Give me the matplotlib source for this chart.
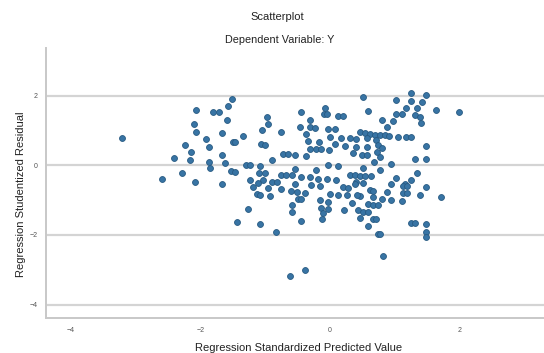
import matplotlib
matplotlib.use("Agg")
import matplotlib.pyplot as plt

plt.rcParams['font.family'] = ['Liberation Sans', 'DejaVu Sans']

# standardized predicted value (x) and studentized residual (y)
pred = [
    -1.51, -2.07, -1.81, -1.71, -1.57, -1.59, -2.10, -2.07, -1.67, -3.21,
    -1.92, -1.50, -2.23, -1.87, -2.15, -1.66, -2.40, -2.16, -1.87, -1.62,
    -1.85, -1.52, -2.28, -2.60, -2.09, -1.67,
    -1.19, -1.12, -1.27, -1.44, -1.08,
    -0.07, -0.45, -0.09, -0.04, 0.13, 0.20, -0.97, -0.31, -0.95, -0.46,
    -0.31, -0.23, -0.02, 0.08, -1.04, -0.76, -0.37, 0.01, 0.17, 0.31,
    -1.34, -0.34, -0.17, 0.08, -1.47, -1.06, -1.00, 0.23, -0.30, -0.22,
    -0.14, -0.01, -0.72, -0.64, -0.54, -0.37, -0.89, -1.29, -1.23, -1.08,
    -0.02, 0.13, -1.47, -0.54, -0.22, -1.09, -1.00, -0.75, -0.67, -0.58,
    -0.45, -0.31, -0.18, -0.05, 0.10, 0.31, -1.24, -1.03, -0.90, -0.82,
    0.51, 1.25, 1.48, 1.03, 1.26, 1.42, 1.17, 1.34, 1.64, 2.00,
    0.59, 1.03, 1.11, 1.31, 1.39, 0.81, 0.97, 1.41, 0.89, 0.46,
    0.54, 0.62, 0.70, 0.77, 0.85, 0.92, 1.06, 1.17, 1.25, 0.41,
    0.57, 0.72, 0.75, 0.81, 0.41, 0.57, 1.48, 0.36, 0.49, 0.58,
    0.73, 0.77, 1.31, 1.48, 0.68, 0.95, 0.51, 0.77, 1.34, 0.39,
    0.46, 0.54, 0.64, 1.03, 1.26, 0.41, 0.51, 0.95, 1.16,
    -1.11, -1.08, -0.93, -0.95, -0.76, -0.60, -0.51, -0.54, -0.29, -0.15,
    -0.39, -0.49, -0.44, 0.00, 0.13, 0.26, 0.21, 0.28, 0.39, -0.15,
    -0.59, -0.03, -0.13, -0.10, -0.02, 0.34, -0.59, 0.22, -0.45, -0.83,
    -0.39, -0.62, -0.12,
    1.13, 1.19, 1.48, 0.62, 0.67, 0.89, 1.13, 1.19, 1.39, 1.72,
    0.46, 0.42, 0.67, 0.80, 0.95, 1.11, 0.59, 0.67, 0.75, 0.44,
    0.51, 0.59, 0.46, 0.67, 0.72, 1.26, 1.31, 1.48, 1.48, 1.48,
    0.59, 0.75, 0.77, 0.82,
]
resid = [
    1.91, 1.60, 1.55, 1.53, 1.72, 1.32, 1.19, 0.97, 0.93, 0.78,
    0.76, 0.68, 0.59, 0.52, 0.38, 0.30, 0.22, 0.16, 0.11, 0.06,
    -0.08, -0.16, -0.23, -0.40, -0.47, -0.52,
    -0.61, -0.82, -1.24, -1.64, -1.67,
    1.66, 1.53, 1.47, 1.47, 1.42, 1.42, 1.40, 1.31, 1.19, 1.12,
    1.12, 1.09, 1.05, 1.05, 1.02, 0.95, 0.90, 0.83, 0.80, 0.78,
    0.86, 0.70, 0.67, 0.61, 0.67, 0.61, 0.59, 0.57, 0.47, 0.47,
    0.47, 0.44, 0.33, 0.33, 0.30, 0.28, 0.16, 0.01, 0.01, -0.02,
    0.01, -0.01, -0.18, -0.10, -0.13, -0.23, -0.23, -0.28, -0.28, -0.28,
    -0.33, -0.33, -0.40, -0.40, -0.42, -0.26, -0.42, -0.42, -0.47, -0.47,
    1.96, 2.08, 2.03, 1.88, 1.86, 1.84, 1.66, 1.65, 1.59, 1.53,
    1.57, 1.47, 1.47, 1.45, 1.40, 1.31, 1.29, 1.21, 1.10, 0.95,
    0.93, 0.90, 0.88, 0.88, 0.88, 0.86, 0.83, 0.81, 0.81, 0.76,
    0.78, 0.73, 0.59, 0.49, 0.54, 0.52, 0.57, 0.35, 0.30, 0.30,
    0.39, 0.25, 0.20, 0.18, 0.11, 0.04, -0.08, -0.13, -0.23, -0.26,
    -0.30, -0.30, -0.30, -0.37, -0.42, -0.47, -0.49, -0.52, -0.54,
    -0.51, -0.85, -0.88, -0.66, -0.69, -0.73, -0.76, -0.54, -0.56, -0.59,
    -0.79, -0.95, -0.95, -0.82, -0.85, -0.85, -0.63, -0.66, -0.52, -1.00,
    -1.14, -1.05, -1.21, -1.38, -1.24, -1.09, -1.35, -1.29, -1.59, -1.91,
    -3.01, -3.19, -1.54,
    -0.59, -0.59, -0.63, -0.71, -0.74, -0.76, -0.80, -0.80, -0.85, -0.92,
    -0.88, -0.85, -0.92, -0.95, -0.98, -1.02, -1.11, -1.14, -1.14, -1.27,
    -1.33, -1.33, -1.52, -1.55, -1.55, -1.65, -1.65, -1.69, -1.91, -2.06,
    -1.75, -1.96, -1.98, -2.61,
]

x_ticks = [-4, -2, 0, 2]
y_ticks = [-4, -2, 0, 2]

fig = plt.figure(figsize=(5.44, 3.53), dpi=100)
ax = fig.add_axes([0.084, 0.098, 0.916, 0.765])

ax.scatter(pred, resid, s=18, color='#3874a4', edgecolor='#285a82',
           linewidth=0.6, zorder=3)

ax.set_xlim(-4.39, 3.31)
ax.set_ylim(-4.40, 3.37)
ax.set_xticks(x_ticks)
ax.set_yticks(y_ticks)
ax.tick_params(length=0, labelsize=5, colors='#555555', pad=6)
ax.grid(axis='y', color='#d4d4d4', linewidth=1.6, zorder=1)

for side in ['top', 'right']:
    ax.spines[side].set_visible(False)
for side in ['left', 'bottom']:
    ax.spines[side].set_color('#c8c8c8')
    ax.spines[side].set_linewidth(1.4)

fig.text(0.509, 1 - 17 / 353, 'Scatterplot', ha='center', va='center',
         fontsize=8, color='#222222')
fig.text(0.515, 1 - 40 / 353, 'Dependent Variable: Y', ha='center', va='center',
         fontsize=7.8, color='#222222')
fig.text(0.548, 1 - 348 / 353, 'Regression Standardized Predicted Value',
         ha='center', va='center', fontsize=8, color='#222222')
fig.text(21 / 544, 1 - 194 / 353, 'Regression Studentized Residual',
         ha='center', va='center', rotation=90, fontsize=8, color='#222222')

fig.savefig('out.png', dpi=100)
